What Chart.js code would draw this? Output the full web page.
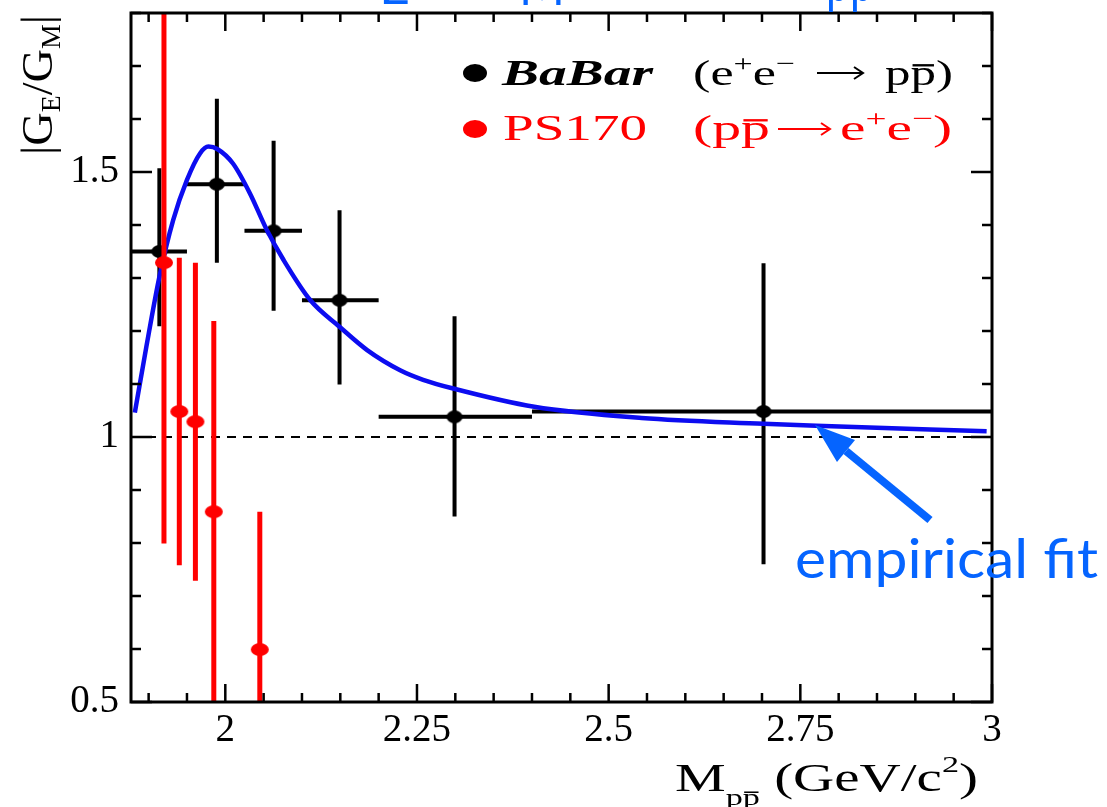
<!DOCTYPE html>
<html>
<head>
<meta charset="utf-8">
<script src="https://cdn.jsdelivr.net/npm/chart.js@4.4.0/dist/chart.umd.min.js"></script>
<style>
html, body { margin: 0; padding: 0; background: #fff; overflow: hidden; }
canvas { display: block; }
</style>
</head>
<body>
<canvas id="myChart" width="1107" height="807"></canvas>
<script>
// Axis ranges and tick labels
const xMin = 1.877, xMax = 3.0;
const yMin = 0.5, yMax = 1.8;
const xTickLabels = [2, 2.25, 2.5, 2.75, 3];
const yTickLabels = [0.5, 1, 1.5];

// BaBar (e+e- -> p pbar): bin centre, bin edges, |GE/GM| and errors
const babarM = [1.914, 1.989, 2.063, 2.149, 2.299, 2.702];
const babarLo = [1.877, 1.95, 2.025, 2.1, 2.2, 2.4];
const babarHi = [1.95, 2.025, 2.1, 2.2, 2.4, 3.0];
const babarRatio = [1.350, 1.477, 1.389, 1.258, 1.038, 1.048];
const babarUp = [0.157, 0.161, 0.170, 0.170, 0.190, 0.280];
const babarDown = [0.141, 0.148, 0.151, 0.159, 0.188, 0.288];

// PS170 (p pbar -> e+e-)
const ps170M = [1.920, 1.940, 1.961, 1.985, 2.045];
const ps170Ratio = [1.329, 1.048, 1.029, 0.859, 0.599];
const ps170Err = [0.53, 0.29, 0.30, 0.36, 0.26];

// Empirical fit curve
const fitM = [1.882, 1.897, 1.914, 1.932, 1.950, 1.967, 1.978, 1.990, 2.010, 2.032, 2.054, 2.076,
              2.111, 2.149, 2.185, 2.228, 2.258, 2.296, 2.403, 2.543, 2.702, 2.771, 2.993];
const fitG = [1.046, 1.170, 1.302, 1.409, 1.485, 1.535, 1.548, 1.543, 1.516, 1.460, 1.391, 1.334,
              1.258, 1.208, 1.164, 1.126, 1.108, 1.092, 1.057, 1.036, 1.025, 1.021, 1.011];

const serif = 'Liberation Serif';
const annotBlue = 'rgb(5,100,255)';
const fitBlue = 'rgb(12,12,240)';
const red = 'rgb(255,0,0)';

// Small ellipse markers (the picture is a bit stretched sideways)
function ellipseMarker(rx, ry, color) {
    const c = document.createElement('canvas');
    c.width = 2 * rx + 2;
    c.height = 2 * ry + 2;
    const g = c.getContext('2d');
    g.fillStyle = color;
    g.beginPath();
    g.ellipse(rx + 1, ry + 1, rx, ry, 0, 0, 2 * Math.PI);
    g.fill();
    return c;
}

// Draw text made of pieces (sub/superscripts, overbar), stretched to a given width
function drawRich(ctx, parts, x, y, o) {
    const font = (s) => `${o.style || ''} ${o.weight || ''} ${s}px ${o.family || serif}`;
    let natural = 0;
    const sizes = parts.map(p => (p.sub || p.sup) ? o.size * (o.scriptScale || 0.65) : o.size);
    parts.forEach((p, i) => { ctx.font = font(sizes[i]); natural += ctx.measureText(p.t).width; });
    const sx = o.width ? o.width / natural : 1;
    ctx.save();
    ctx.translate(x, y);
    if (o.rotate) ctx.rotate(o.rotate);
    ctx.scale(sx, o.sy || 1);
    ctx.fillStyle = o.color || '#000';
    ctx.textBaseline = 'alphabetic';
    ctx.textAlign = 'left';
    let cx = 0;
    parts.forEach((p, i) => {
        ctx.font = font(sizes[i]);
        const w = ctx.measureText(p.t).width;
        let dy = 0;
        if (p.sub) dy = o.size * (o.subShift || 0.3);
        if (p.sup) dy = -o.size * (o.supShift || 0.38);
        ctx.fillText(p.t, cx, dy);
        if (p.bar) {
            ctx.fillRect(cx + w * 0.08, dy - sizes[i] * 0.58, w * 0.84, sizes[i] * 0.065);
        }
        cx += w;
    });
    ctx.restore();
}

// thin "→" like the one in the legend
function drawArrowGlyph(ctx, x1, x2, y, color) {
    ctx.save();
    ctx.strokeStyle = color;
    ctx.lineWidth = 2;
    ctx.beginPath();
    ctx.moveTo(x1, y);
    ctx.lineTo(x2, y);
    ctx.moveTo(x2 - 9, y - 6);
    ctx.lineTo(x2, y);
    ctx.lineTo(x2 - 9, y + 6);
    ctx.stroke();
    ctx.restore();
}

const errorBarPlugin = {
    id: 'errorBars',
    beforeDatasetDraw(chart, args) {
        const ds = chart.data.datasets[args.index];
        if (!ds.errorBars) return;
        const { ctx, chartArea: a, scales: { x, y } } = chart;
        const e = ds.errorBars;
        ctx.save();
        ctx.beginPath();
        ctx.rect(a.left, a.top, a.right - a.left, a.bottom - a.top);
        ctx.clip();
        ctx.strokeStyle = e.color;
        ctx.lineWidth = e.width;
        ds.data.forEach((p, i) => {
            const px = x.getPixelForValue(p.x), py = y.getPixelForValue(p.y);
            ctx.beginPath();
            ctx.moveTo(px, y.getPixelForValue(p.y + e.up[i]));
            ctx.lineTo(px, y.getPixelForValue(p.y - e.down[i]));
            if (e.lo) {
                ctx.moveTo(x.getPixelForValue(e.lo[i]), py);
                ctx.lineTo(x.getPixelForValue(e.hi[i]), py);
            }
            ctx.stroke();
        });
        ctx.restore();
    }
};

const framePlugin = {
    id: 'frame',
    afterDraw(chart) {
        const { ctx, chartArea: a, scales: { x, y } } = chart;
        ctx.save();
        // frame
        ctx.strokeStyle = '#000';
        ctx.lineWidth = 3;
        ctx.strokeRect(a.left, a.top, a.right - a.left, a.bottom - a.top);
        // ROOT style inner ticks on all four sides
        ctx.lineWidth = 2.5;
        ctx.beginPath();
        for (let k = 38; k <= 60; k++) {
            const px = x.getPixelForValue(k * 0.05);
            const len = k % 5 === 0 ? 18 : 9;
            ctx.moveTo(px, a.bottom); ctx.lineTo(px, a.bottom - len);
            ctx.moveTo(px, a.top); ctx.lineTo(px, a.top + len);
        }
        for (let k = 5; k <= 18; k++) {
            const py = y.getPixelForValue(k / 10);
            const len = k % 5 === 0 ? 21 : 10;
            ctx.moveTo(a.left, py); ctx.lineTo(a.left + len, py);
            ctx.moveTo(a.right, py); ctx.lineTo(a.right - len, py);
        }
        ctx.stroke();

        // legend
        ctx.drawImage(ellipseMarker(12, 9, '#000'), 475 - 13, 73 - 10);
        ctx.drawImage(ellipseMarker(12, 9, red), 475 - 13, 129 - 10);
        drawRich(ctx, [{ t: 'BaBar' }], 502, 85, { size: 36, weight: 'bold', style: 'italic', width: 151 });
        drawRich(ctx, [{ t: '(e' }, { t: '+', sup: true }, { t: 'e' }, { t: '\u2212', sup: true }],
            693, 85, { size: 36, width: 102 });
        drawArrowGlyph(ctx, 817, 863, 73, '#000');
        drawRich(ctx, [{ t: 'p' }, { t: 'p', bar: true }, { t: ')' }], 885, 85, { size: 36, width: 68 });

        drawRich(ctx, [{ t: 'PS170' }], 503, 140, { size: 36, width: 144, color: red });
        drawRich(ctx, [{ t: '(p' }, { t: 'p', bar: true }], 693, 140, { size: 36, width: 77, color: red });
        drawArrowGlyph(ctx, 778, 830, 129, red);
        drawRich(ctx, [{ t: 'e' }, { t: '+', sup: true }, { t: 'e' }, { t: '\u2212', sup: true }, { t: ')' }],
            840, 140, { size: 36, width: 112, color: red });

        // axis titles
        drawRich(ctx, [{ t: '|G' }, { t: 'E', sub: true }, { t: '/G' }, { t: 'M', sub: true }, { t: '|' }],
            52, 155, { size: 40, width: 140, rotate: -Math.PI / 2, sy: 1.1, scriptScale: 0.6, subShift: 0.18 });
        drawRich(ctx, [{ t: 'M' }, { t: 'p', sub: true }, { t: 'p', sub: true, bar: true }, { t: ' (GeV/c' },
            { t: '2', sup: true }, { t: ')' }], 675, 791,
            { size: 39, width: 303, scriptScale: 0.6, subShift: 0.36, supShift: 0.5 });

        // annotation
        ctx.strokeStyle = annotBlue;
        ctx.fillStyle = annotBlue;
        ctx.lineWidth = 8;
        ctx.beginPath();
        ctx.moveTo(930, 520);
        ctx.lineTo(846, 451);
        ctx.stroke();
        ctx.beginPath();
        ctx.moveTo(815, 425);
        ctx.lineTo(855, 440);
        ctx.lineTo(837, 462);
        ctx.closePath();
        ctx.fill();
        drawRich(ctx, [{ t: 'empirical fit' }], 795, 578, { size: 54, family: 'Lato', width: 303, color: annotBlue });

        // bits of the cut-off title at the very top
        drawRich(ctx, [{ t: 'E' }], 379, 4, { size: 46, family: 'Lato', width: 31, color: annotBlue });
        drawRich(ctx, [{ t: 'M' }], 519, 5, { size: 46, family: 'Lato', width: 46, color: annotBlue });
        drawRich(ctx, [{ t: 'pp' }], 826, 1, { size: 66, family: 'Lato', width: 48, color: annotBlue });
        ctx.restore();
    }
};

const ctx = document.getElementById('myChart').getContext('2d');
const myChart = new Chart(ctx, {
    type: 'scatter',
    data: {
        datasets: [
            {
                label: 'PS170',
                data: ps170M.map((m, i) => ({ x: m, y: ps170Ratio[i] })),
                pointStyle: ellipseMarker(9, 6.5, red),
                pointRadius: 8,
                errorBars: { up: ps170Err, down: ps170Err, color: red, width: 5 },
                order: 0
            },
            {
                label: 'empirical fit',
                data: fitM.map((m, i) => ({ x: m, y: fitG[i] })),
                showLine: true,
                borderColor: fitBlue,
                borderWidth: 4.5,
                pointRadius: 0,
                cubicInterpolationMode: 'monotone',
                order: 1
            },
            {
                label: 'BaBar',
                data: babarM.map((m, i) => ({ x: m, y: babarRatio[i] })),
                pointStyle: ellipseMarker(8, 6.5, '#000'),
                pointRadius: 8,
                errorBars: { up: babarUp, down: babarDown, lo: babarLo, hi: babarHi, color: '#000', width: 4 },
                order: 2
            },
            {
                label: 'unity',
                data: [{ x: xMin, y: 1 }, { x: xMax, y: 1 }],
                showLine: true,
                borderColor: '#000',
                borderWidth: 1.8,
                borderDash: [9, 7],
                pointRadius: 0,
                order: 3
            }
        ]
    },
    options: {
        responsive: false,
        animation: false,
        devicePixelRatio: 1,
        events: [],
        layout: { padding: { top: 13, right: 115, left: 0, bottom: 0 } },
        scales: {
            x: {
                type: 'linear',
                min: xMin,
                max: xMax,
                afterBuildTicks: (scale) => { scale.ticks = xTickLabels.map(v => ({ value: v })); },
                afterFit: (scale) => {
                    scale.height = 105;
                    scale.paddingLeft = 0;
                    scale.paddingRight = 0;
                },
                grid: { display: false, drawTicks: false },
                border: { display: false },
                ticks: {
                    autoSkip: false,
                    maxRotation: 0,
                    padding: 5,
                    color: '#000',
                    font: { family: serif, size: 39 },
                    callback: (v) => String(v)
                }
            },
            y: {
                type: 'linear',
                min: yMin,
                max: yMax,
                afterBuildTicks: (scale) => { scale.ticks = yTickLabels.map(v => ({ value: v })); },
                afterFit: (scale) => {
                    scale.width = 131;
                    scale.paddingTop = 0;
                    scale.paddingBottom = 0;
                },
                grid: { display: false, drawTicks: false },
                border: { display: false },
                ticks: {
                    padding: 12,
                    color: '#000',
                    font: { family: serif, size: 39 },
                    callback: (v) => String(v)
                }
            }
        },
        plugins: {
            legend: { display: false },
            tooltip: { enabled: false }
        }
    },
    plugins: [errorBarPlugin, framePlugin]
});
</script>
</body>
</html>
